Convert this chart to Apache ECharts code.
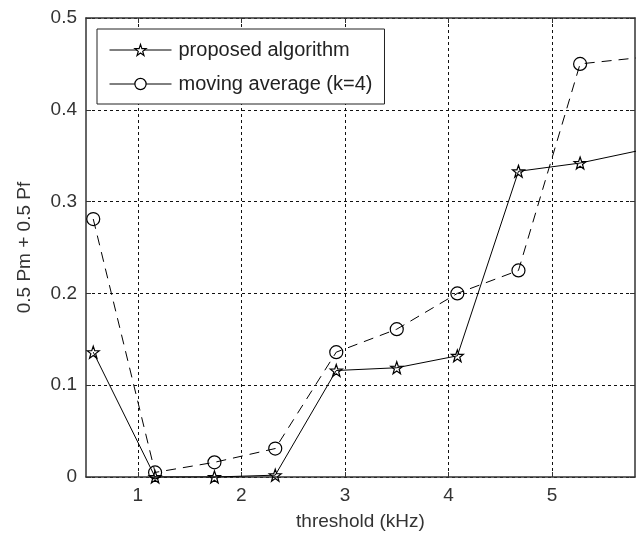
<!DOCTYPE html>
<html>
<head>
<meta charset="utf-8">
<script src="https://cdn.jsdelivr.net/npm/echarts@6/dist/echarts.min.js"></script>
<style>
html,body{margin:0;padding:0;background:#fff;}
#c{width:638px;height:536px;}
</style>
</head>
<body>
<div id="c"></div>
<script>
// Data
var thresholds = [0.57, 1.167, 1.74, 2.327, 2.916, 3.50, 4.085, 4.675, 5.27, 5.855];
var proposed   = [0.136, 0.000, 0.000, 0.002, 0.116, 0.119, 0.132, 0.333, 0.342, 0.356];
var movingAvg  = [0.281, 0.005, 0.016, 0.031, 0.136, 0.161, 0.200, 0.225, 0.450, 0.457];
var xTicks = [1, 2, 3, 4, 5];
var seriesNames = ['proposed algorithm', 'moving average (k=4)'];

function pairs(xs, ys) { return xs.map(function (x, i) { return [x, ys[i]]; }); }

var starPath = 'path://M0,-10 L2.35,-3.24 L9.51,-3.09 L3.8,1.24 L5.88,8.09 L0,4 L-5.88,8.09 L-3.8,1.24 L-9.51,-3.09 L-2.35,-3.24 Z';
var FONT = 'Liberation Sans';
var axisCol = '#333';
var gridLine = { show: true, lineStyle: { color: '#111', type: [3, 3], width: 1 } };

var chart = echarts.init(document.getElementById('c'), null, { renderer: 'canvas' });
chart.setOption({
  backgroundColor: '#fff',
  animation: false,
  grid: { left: 86, top: 18, right: 3, bottom: 59, containLabel: false },
  legend: {
    left: 97, top: 29, orient: 'vertical',
    padding: [11, 12, 10, 12],
    itemGap: 14,
    itemWidth: 62, itemHeight: 14,
    borderColor: '#222', borderWidth: 1,
    backgroundColor: '#fff',
    textStyle: { fontFamily: FONT, fontSize: 20, color: '#222', padding: [0, 0, 0, 2] },
    lineStyle: { type: 'solid', width: 1, color: '#000' },
    itemStyle: { color: '#fff', borderColor: '#000', borderWidth: 1.2 },
    data: seriesNames
  },
  xAxis: [{
    type: 'value', min: 0.5, max: 5.8, position: 'bottom',
    name: 'threshold (kHz)', nameLocation: 'middle', nameGap: 35,
    nameTextStyle: { fontFamily: FONT, fontSize: 19, color: '#333' },
    axisLine: { show: true, onZero: false, lineStyle: { color: axisCol, width: 1.5 } },
    axisTick: { show: true, inside: true, length: 5, customValues: xTicks, lineStyle: { color: axisCol } },
    axisLabel: { customValues: xTicks, margin: 9, fontFamily: FONT, fontSize: 19, color: '#333' },
    splitLine: gridLine
  }, {
    type: 'value', min: 0.5, max: 5.8, position: 'top',
    axisLine: { show: true, onZero: false, lineStyle: { color: axisCol, width: 1.5 } },
    axisTick: { show: true, inside: true, length: 5, customValues: xTicks, lineStyle: { color: axisCol } },
    axisLabel: { show: false },
    splitLine: { show: false }
  }],
  yAxis: [{
    type: 'value', min: 0, max: 0.5, interval: 0.1, position: 'left',
    name: '0.5 Pm + 0.5 Pf', nameLocation: 'middle', nameGap: 52,
    nameTextStyle: { fontFamily: FONT, fontSize: 19, color: '#333' },
    axisLine: { show: true, onZero: false, lineStyle: { color: axisCol, width: 1.5 } },
    axisTick: { show: true, inside: true, length: 5, lineStyle: { color: axisCol } },
    axisLabel: { margin: 9, fontFamily: FONT, fontSize: 19, color: '#333' },
    splitLine: gridLine
  }, {
    type: 'value', min: 0, max: 0.5, interval: 0.1, position: 'right',
    axisLine: { show: true, onZero: false, lineStyle: { color: axisCol, width: 1.5 } },
    axisTick: { show: true, inside: true, length: 5, lineStyle: { color: axisCol } },
    axisLabel: { show: false },
    splitLine: { show: false }
  }],
  series: [{
    name: seriesNames[0], type: 'line', xAxisIndex: 0, yAxisIndex: 0,
    data: pairs(thresholds, proposed),
    symbol: starPath, symbolSize: 12, showAllSymbol: true,
    lineStyle: { color: '#000', width: 1, type: 'solid' },
    itemStyle: { color: 'rgba(255,255,255,0)', borderColor: '#000', borderWidth: 1.2 },
    clip: true, z: 3
  }, {
    name: seriesNames[1], type: 'line', xAxisIndex: 0, yAxisIndex: 0,
    data: pairs(thresholds, movingAvg),
    symbol: 'circle', symbolSize: 13, showAllSymbol: true,
    lineStyle: { color: '#000', width: 1, type: [10, 7] },
    itemStyle: { color: 'rgba(255,255,255,0)', borderColor: '#000', borderWidth: 1.2 },
    clip: true, z: 3
  }]
});
</script>
</body>
</html>
